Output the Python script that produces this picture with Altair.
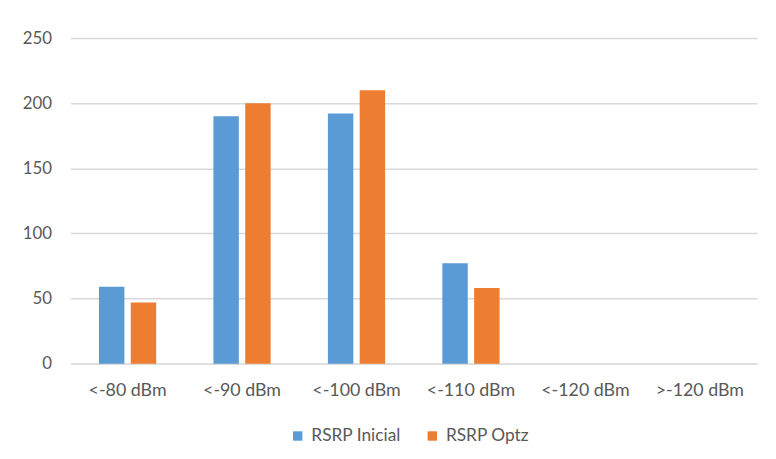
import altair as alt
import pandas as pd

categories = ["<-80 dBm", "<-90 dBm", "<-100 dBm", "<-110 dBm", "<-120 dBm", ">-120 dBm"]
series_names = ["RSRP Inicial", "RSRP Optz"]
rsrp_inicial = [59, 190, 192, 77, 0, 0]
rsrp_optz = [47, 200, 210, 58, 0, 0]
y_ticks = [0, 50, 100, 150, 200, 250]
colors = ["#5B9BD5", "#ED7D31"]

rows = []
for c, a, b in zip(categories, rsrp_inicial, rsrp_optz):
    rows.append({"cat": c, "serie": series_names[0], "valor": a})
    rows.append({"cat": c, "serie": series_names[1], "valor": b})
df = pd.DataFrame(rows)

W, H = 694, 329
FONT = "Lato"

bars = alt.Chart(df).mark_bar().encode(
    x=alt.X("cat:N", sort=categories, title=None,
            scale=alt.Scale(paddingInner=0.5, paddingOuter=0.25),
            axis=alt.Axis(labelAngle=0, ticks=False, grid=False, domainColor="#d9d9d9",
                          domainWidth=1.5, labelPadding=18, labelFontSize=18,
                          labelColor="#595959", labelFont=FONT)),
    xOffset=alt.XOffset("serie:N", sort=series_names,
                        scale=alt.Scale(paddingInner=0.2)),
    y=alt.Y("valor:Q", title=None,
            scale=alt.Scale(domain=[0, 250], nice=False),
            axis=alt.Axis(values=y_ticks, domain=False, ticks=False,
                          gridColor="#d9d9d9", gridWidth=1.5, labelPadding=19,
                          labelFontSize=17, labelColor="#595959", labelFont=FONT)),
    color=alt.Color("serie:N", sort=series_names,
                    scale=alt.Scale(domain=series_names, range=colors),
                    legend=alt.Legend(title=None, orient="none", direction="horizontal",
                                      legendX=221, legendY=393,
                                      symbolType="square", symbolSize=90,
                                      symbolStrokeWidth=0,
                                      labelFontSize=17.5, labelColor="#595959",
                                      labelFont=FONT, columnPadding=22, labelOffset=5)),
)

chart = bars.properties(
    width=W, height=H,
    autosize=alt.AutoSizeParams(type="none"),
    padding={"left": 63, "top": 28, "right": 11, "bottom": 94},
).configure(background="white").configure_view(
    stroke="transparent", strokeWidth=0, strokeOpacity=0
)

chart.save("out.html", embed_options={"renderer": "svg", "actions": False})
